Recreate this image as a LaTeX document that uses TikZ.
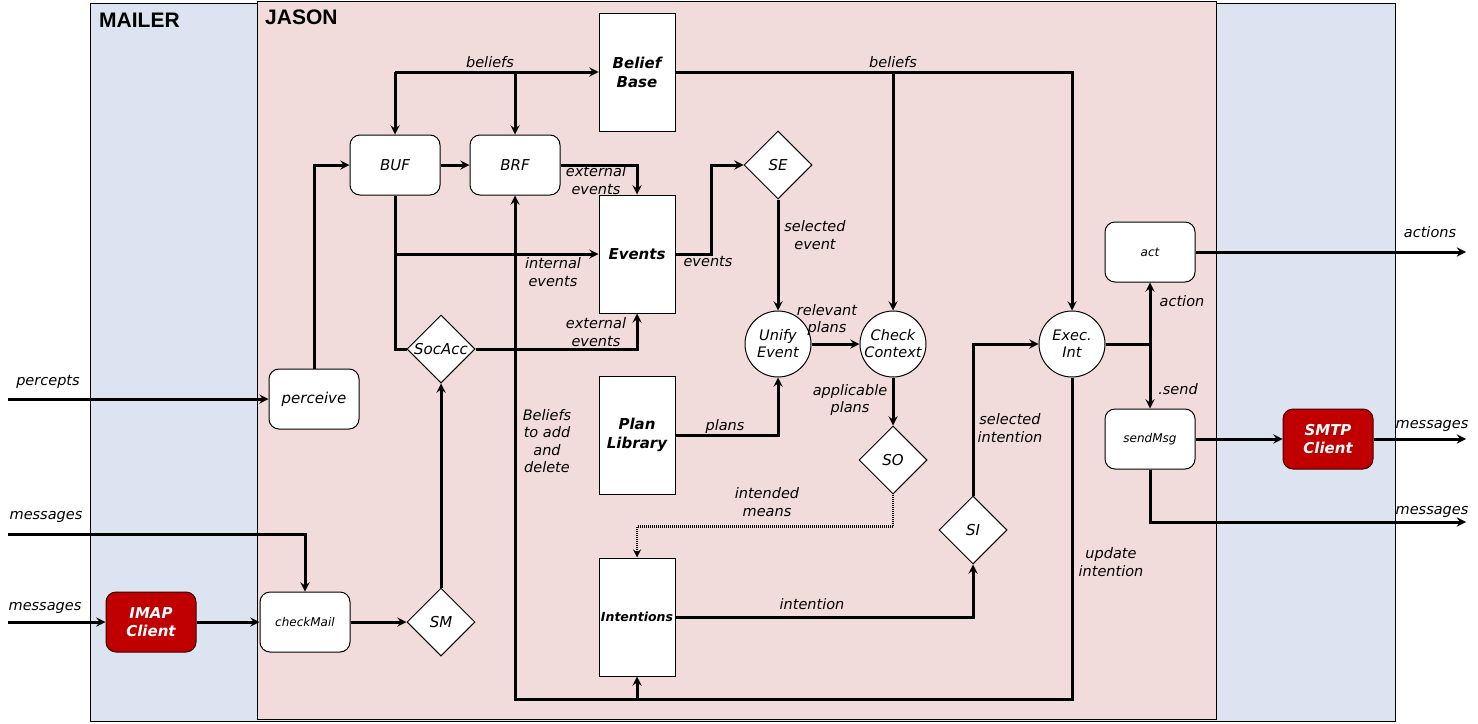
\documentclass[tikz,border=0pt]{standalone}
\usepackage{fontspec}
\setmainfont{DejaVu Sans}
\newfontfamily\titlefont{Liberation Sans}
\usepackage{tikz}
\usetikzlibrary{arrows,shapes.geometric}
\definecolor{mailerbg}{RGB}{220,228,241}
\definecolor{jasonbg}{RGB}{242,220,219}
\definecolor{clientred}{RGB}{192,0,0}

\begin{document}
\begin{tikzpicture}[x=1pt,y=-1pt,>=stealth,
    store/.style={draw,line width=1pt,fill=white,minimum width=76pt,minimum height=118pt,inner sep=0pt,
      align=center,font=\fontsize{15}{19}\selectfont\bfseries\itshape},
    proc/.style={draw,line width=1pt,fill=white,rounded corners=10pt,minimum width=90pt,minimum height=60pt,
      inner sep=0pt,font=\fontsize{15}{17}\selectfont\itshape},
    small/.style={font=\fontsize{12}{14}\selectfont\itshape},
    client/.style={draw=black!70!clientred,line width=1pt,fill=clientred,rounded corners=10pt,minimum width=90pt,
      minimum height=60pt,inner sep=0pt,align=center,text=white,
      font=\fontsize{15}{18}\selectfont\bfseries\itshape},
    choice/.style={draw,line width=1pt,fill=white,diamond,minimum width=68pt,minimum height=68pt,inner sep=0pt,
      font=\fontsize{15}{17}\selectfont\itshape},
    func/.style={draw,line width=1pt,fill=white,circle,minimum size=66pt,inner sep=-2pt,align=center,
      font=\fontsize{14.5}{17}\selectfont\itshape},
    flow/.style={line width=3pt},
    lbl/.style={inner sep=0pt,align=center,font=\fontsize{14.5}{17.5}\selectfont\itshape},
    title/.style={anchor=north west,inner sep=0pt,font=\titlefont\fontsize{21}{24}\selectfont\bfseries}]

  \useasboundingbox (0,0) rectangle (1478,723);

  % the two layers
  \draw[line width=1pt,fill=mailerbg] (90,3) rectangle (1395,721);
  \draw[line width=1pt,fill=jasonbg] (257,1) rectangle (1216,719);
  \node[title] (mailer) at (99,13) {MAILER};
  \node[title] (jason) at (265,10) {JASON};

  % stores
  \node[store] (bb) at (637,72) {Belief\\Base};
  \node[store] (ev) at (637,254) {Events};
  \node[store] (pl) at (637,435) {Plan\\Library};
  \node[store,font=\fontsize{12.5}{14}\selectfont\bfseries\itshape] (in) at (637,617) {Intentions};

  % functions
  \node[proc] (buf) at (395,165) {BUF};
  \node[proc] (brf) at (515,165) {BRF};
  \node[proc] (perc) at (314,399) {perceive};
  \node[proc,small] (chk) at (305,622) {checkMail};
  \node[proc,small] (act) at (1150,252) {act};
  \node[proc,small] (send) at (1150,439) {sendMsg};
  \node[client] (imap) at (151,622) {IMAP\\Client};
  \node[client] (smtp) at (1328,439) {SMTP\\Client};

  % selection functions
  \node[choice] (se) at (778,165) {SE};
  \node[choice] (soc) at (441,349) {SocAcc};
  \node[choice] (so) at (893,460) {SO};
  \node[choice] (si) at (973,530) {SI};
  \node[choice] (sm) at (441,622) {SM};

  \node[func] (ue) at (778,344) {Unify\\Event};
  \node[func] (cc) at (893,344) {Check\\Context};
  \node[func] (ei) at (1072,344) {Exec.\\Int};

  % free ends
  \coordinate (percin) at (8,399);
  \coordinate (msgin) at (8,534);
  \coordinate (imapin) at (8,622);
  \coordinate (actout) at (1466,252);
  \coordinate (smtpout) at (1466,439);
  \coordinate (msgout) at (1466,522);
  \coordinate (upd) at (515,699);
  \coordinate (fork) at (1150,344);

  % beliefs
  \draw[flow,->] (buf.north |- bb.west) -- (bb.west);
  \draw[flow,->] (buf.north |- bb.west) -- (buf.north);
  \draw[flow,->] (brf.north |- bb.west) -- (brf.north);
  \draw[flow,->] (bb.east) -| (ei.north);
  \draw[flow,->] (cc.north |- bb.east) -- (cc.north);

  \draw[flow,->] (buf) -- (brf);
  \draw[flow,->] (perc.north) |- (buf.west);
  \draw[flow,->] (brf.east) -| (ev.north);
  \draw[flow] (buf.south) |- (soc.west);
  \draw[flow,->] (buf.south |- ev.west) -- (ev.west);
  \draw[flow,->] (soc.east) -| (ev.south);
  \draw[flow,->] (ei.south) |- (upd) -- (brf.south);
  \draw[flow,->] (in.south |- upd) -- (in.south);

  % reasoning cycle
  \draw[flow,->] (ev.east) -- ++(36,0) |- (se.west);
  \draw[flow,->] (se.south) -- (ue.north);
  \draw[flow,->] (ue) -- (cc);
  \draw[flow,->] (pl.east) -| (ue.south);
  \draw[flow,->] (cc.south) -- (so.north);
  \draw[line width=2.5pt,dash pattern=on 1pt off 1pt,->] (so.south) -- ++(0,32) -| (in.north);
  \draw[flow,->] (in.east) -| (si.south);
  \draw[flow,->] (si.north) |- (ei.west);
  \draw[flow] (ei.east) -- (fork);
  \draw[flow,->] (fork) -- (act.south);
  \draw[flow,->] (fork) -- (send.north);

  % mailer side
  \draw[flow,->] (act.east) -- (actout);
  \draw[flow,->] (send.east) -- (smtp.west);
  \draw[flow,->] (smtp.east) -- (smtpout);
  \draw[flow,->] (send.south) |- (msgout);
  \draw[flow,->] (percin) -- (perc.west);
  \draw[flow,->] (msgin) -| (chk.north);
  \draw[flow,->] (imapin) -- (imap.west);
  \draw[flow,->] (imap) -- (chk);
  \draw[flow,->] (chk) -- (sm);
  \draw[flow,->] (sm) -- (soc);

  % labels
  \node[lbl] (l1) at (490,62) {beliefs};
  \node[lbl] (l2) at (893,62) {beliefs};
  \node[lbl] (l3) at (596,180) {external\\events};
  \node[lbl] (l4) at (553,272) {internal\\events};
  \node[lbl] (l5) at (596,332) {external\\events};
  \node[lbl] (l6) at (547,441) {Beliefs\\to add\\and\\delete};
  \node[lbl] (l7) at (708,262) {events};
  \node[lbl] (l8) at (815,235) {selected\\event};
  \node[lbl] (l9) at (827,320) {relevant\\plans};
  \node[lbl] (l10) at (725,426) {plans};
  \node[lbl] (l11) at (850,400) {applicable\\plans};
  \node[lbl] (l12) at (767,502) {intended\\means};
  \node[lbl] (l13) at (812,604) {intention};
  \node[lbl] (l14) at (1010,428) {selected\\intention};
  \node[lbl] (l15) at (1111,562) {update\\intention};
  \node[lbl] (l16) at (1182,301) {action};
  \node[lbl] (l17) at (1178,389) {.send};
  \node[lbl] (l18) at (1430,232) {actions};
  \node[lbl] (l19) at (1432,426) {messages};
  \node[lbl] (l20) at (1432,512) {messages};
  \node[lbl] (l21) at (48,382) {percepts};
  \node[lbl] (l22) at (46,517) {messages};
  \node[lbl] (l23) at (45,608) {messages};

\end{tikzpicture}
\end{document}
